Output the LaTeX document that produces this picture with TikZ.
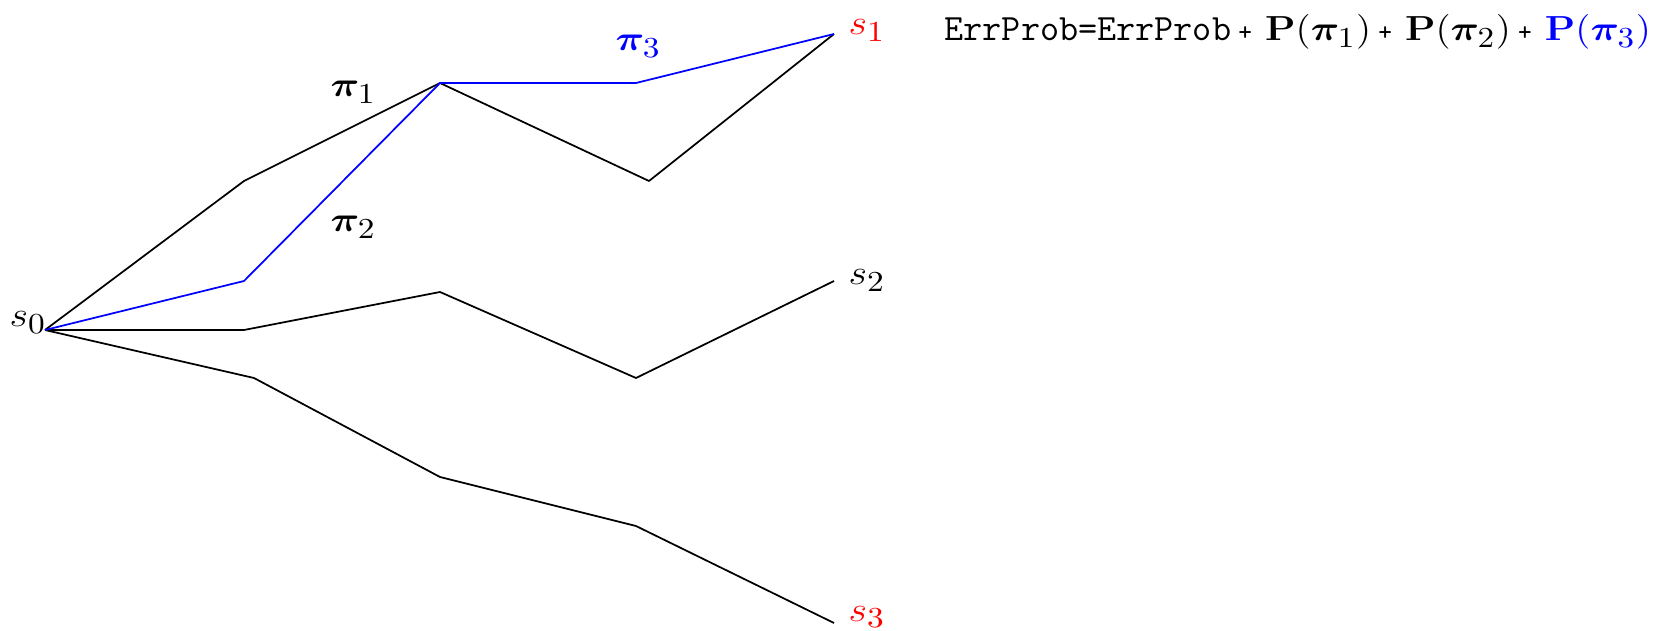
\documentclass[tikz,border=0pt]{standalone}
\usepackage{amsmath,amssymb,bm,graphicx}
\usetikzlibrary{positioning}
\newcommand\lsub[1]{_{\mbox{\fontsize{10}{12}\selectfont$#1$}}}
\newcommand\wide[2][1.15]{\scalebox{#1}[1]{#2}}

\begin{document}
\begin{tikzpicture}[
  x=0.345pt, y=-0.345pt,
  font=\fontsize{12}{14}\selectfont,
  trail/.style={line width=0.6pt, line join=round},
  hot/.style={trail, blue},
  lbl/.style={inner sep=0pt},
]
\useasboundingbox (0,0) rectangle (1655,631);
% vertices
\coordinate (s0) at (45,330);
\coordinate (a1) at (244,181);
\coordinate (a2) at (440,83);
\coordinate (a3) at (649,181);
\coordinate (b1) at (244,281);
\coordinate (b3) at (636,83);
\coordinate (s1) at (834,34);
\coordinate (c1) at (244,330);
\coordinate (c2) at (440,292);
\coordinate (c3) at (636,378);
\coordinate (s2) at (834,281);
\coordinate (d1) at (254,378);
\coordinate (d2) at (440,477);
\coordinate (d3) at (636,526);
\coordinate (s3) at (834,623);
% paths
\draw[trail] (s0) -- (a1) -- (a2) -- (a3) -- (s1);
\draw[trail] (s0) -- (c1) -- (c2) -- (c3) -- (s2);
\draw[trail] (s0) -- (d1) -- (d2) -- (d3) -- (s3);
\draw[hot] (s0) -- (b1) -- (a2) -- (b3) -- (s1);
% labels
\node[lbl, anchor=base east] (l0) at ([shift={(2,-3)}]s0) {\wide{$s\lsub0$}};
\node[lbl, anchor=base west, red] (l1) at ([shift={(14,1)}]s1) {\wide{$s\lsub1$}};
\node[lbl, anchor=base west] (l2) at ([shift={(14,4)}]s2) {\wide{$s\lsub2$}};
\node[lbl, anchor=base west, red] (l3) at ([shift={(14,-2)}]s3) {\wide{$s\lsub3$}};
\node[lbl, anchor=base west] (p1) at (330,97) {\wide{$\bm{\pi}\lsub1$}};
\node[lbl, anchor=base west] (p2) at (330,232) {\wide{$\bm{\pi}\lsub2$}};
\node[lbl, anchor=base west, blue] (p3) at (615,51) {\wide{$\bm{\pi}\lsub3$}};
\node[lbl, anchor=base west] (err) at (944,41)
  {\fontsize{12.8}{14}\ttfamily ErrProb=ErrProb\hspace{2.5pt}{\small+}\hspace{4.5pt}%
   \wide[1.14]{$\mathbf{P}(\bm{\pi}\lsub1)$}\hspace{2.5pt}{\small+}\hspace{4.5pt}%
   \wide[1.14]{$\mathbf{P}(\bm{\pi}\lsub2)$}\hspace{2.5pt}{\small+}\hspace{4.5pt}%
   \textcolor{blue}{\wide[1.14]{$\mathbf{P}(\bm{\pi}\lsub3)$}}};
\end{tikzpicture}
\end{document}
